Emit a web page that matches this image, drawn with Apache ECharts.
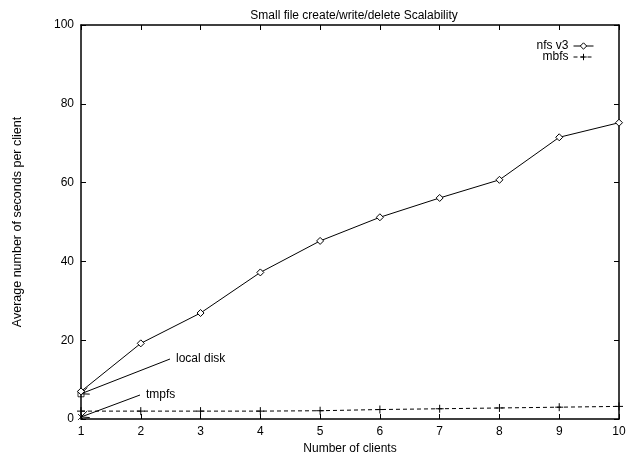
<!DOCTYPE html>
<html>
<head>
<meta charset="utf-8">
<script src="https://cdn.jsdelivr.net/npm/echarts@6/dist/echarts.min.js"></script>
<style>html,body{margin:0;padding:0;background:#fff}#c{width:629px;height:453px}</style>
</head>
<body>
<div id="c"></div>
<script>
const clients = [1, 2, 3, 4, 5, 6, 7, 8, 9, 10];
const nfsV3 = [7.0, 19.2, 26.9, 37.2, 45.2, 51.2, 56.1, 60.7, 71.5, 75.2];
const mbfs = [2.0, 2.0, 2.0, 2.0, 2.1, 2.4, 2.6, 2.8, 3.0, 3.2];
const localDisk = [1, 6.4];
const tmpfs = [1, 0.5];
const yTicks = [0, 20, 40, 60, 80, 100];
const FONT = 'Liberation Sans';

const chart = echarts.init(document.getElementById('c'), null, {renderer: 'canvas'});
const plusPath = 'path://M0,5L10,5M5,0L5,10';
const crossPath = 'path://M0,0L10,10M10,0L0,10';
const axisBase = {
  type: 'value', min: 1, max: 10, interval: 1,
  axisLine: {show: true, onZero: false, lineStyle: {color: '#000', width: 1.5}},
  axisTick: {show: true, inside: true, length: 5, lineStyle: {color: '#000', width: 1}},
  splitLine: {show: false}
};
chart.setOption({
  animation: false,
  backgroundColor: '#fff',
  textStyle: {fontFamily: FONT, color: '#000'},
  title: {
    text: 'Small file create/write/delete Scalability',
    left: 349, top: 5, textAlign: 'center',
    textStyle: {fontFamily: FONT, fontSize: 12, fontWeight: 'normal', color: '#000'}
  },
  grid: {left: 81, right: 10, top: 25, bottom: 34, containLabel: false, outerBoundsMode: 'none'},
  legend: {
    orient: 'vertical', right: 30, top: 35, align: 'right',
    itemWidth: 20, itemHeight: 8, itemGap: -1,
    data: ['nfs v3', 'mbfs'],
    lineStyle: {width: 1},
    itemStyle: {borderWidth: 1},
    textStyle: {fontFamily: FONT, fontSize: 12, lineHeight: 10, color: '#000'},
    selectedMode: false
  },
  xAxis: [
    Object.assign({}, axisBase, {
      position: 'bottom',
      name: 'Number of clients', nameLocation: 'middle', nameGap: 21,
      nameTextStyle: {fontFamily: FONT, fontSize: 12, color: '#000'},
      axisLabel: {color: '#000', fontSize: 12, fontFamily: FONT, margin: 7}
    }),
    Object.assign({}, axisBase, {position: 'top', axisLabel: {show: false}})
  ],
  yAxis: [
    {
      type: 'value', min: 0, max: 100, interval: 20, position: 'left',
      name: 'Average number of seconds per client', nameLocation: 'middle', nameGap: 57,
      nameTextStyle: {fontFamily: FONT, fontSize: 12.5, color: '#000'},
      axisLine: {show: true, lineStyle: {color: '#000', width: 1.5}},
      axisTick: {show: true, inside: true, length: 5, lineStyle: {color: '#000', width: 1}},
      axisLabel: {color: '#000', fontSize: 12, fontFamily: FONT, margin: 7,
        customValues: yTicks},
      splitLine: {show: false}
    },
    {
      type: 'value', min: 0, max: 100, interval: 20, position: 'right',
      axisLine: {show: true, lineStyle: {color: '#000', width: 1.5}},
      axisTick: {show: true, inside: true, length: 5, lineStyle: {color: '#000', width: 1}},
      axisLabel: {show: false},
      splitLine: {show: false}
    }
  ],
  series: [
    {
      name: 'nfs v3', type: 'line',
      data: clients.map((c, i) => [c, nfsV3[i]]),
      symbol: 'diamond', symbolSize: 7, showAllSymbol: true,
      lineStyle: {color: '#000', width: 1},
      itemStyle: {color: '#fff', borderColor: '#000', borderWidth: 1}
    },
    {
      name: 'mbfs', type: 'line',
      data: clients.map((c, i) => [c, mbfs[i]]),
      symbol: plusPath, symbolSize: 8, showAllSymbol: true,
      lineStyle: {color: '#000', width: 1, type: [4, 3]},
      itemStyle: {color: '#000', borderColor: '#000', borderWidth: 1}
    },
    {
      name: 'local disk', type: 'scatter', data: [localDisk],
      symbol: 'rect', symbolSize: 6,
      itemStyle: {color: 'rgba(0,0,0,0)', borderColor: '#000', borderWidth: 1}
    },
    {
      name: 'tmpfs', type: 'scatter', data: [tmpfs],
      symbol: crossPath, symbolSize: 6,
      itemStyle: {color: '#000', borderColor: '#000', borderWidth: 1}
    }
  ]
});

function arrow(fromPx, toPt, label) {
  const to = chart.convertToPixel({xAxisIndex: 0, yAxisIndex: 0}, toPt);
  const dx = to[0] - fromPx[0], dy = to[1] - fromPx[1];
  const len = Math.sqrt(dx * dx + dy * dy);
  const ux = dx / len, uy = dy / len;
  const hl = 8, hw = 3.5;
  const bx = to[0] - ux * hl, by = to[1] - uy * hl;
  const p1 = [bx - uy * hw, by + ux * hw], p2 = [bx + uy * hw, by - ux * hw];
  return [
    {type: 'line', shape: {x1: fromPx[0], y1: fromPx[1], x2: to[0], y2: to[1]},
      style: {stroke: '#000', lineWidth: 1}},
    {type: 'polyline', shape: {points: [p1, to, p2]}, style: {stroke: '#000', fill: null, lineWidth: 1}},
    {type: 'text', x: fromPx[0] + 6, y: fromPx[1],
      style: {text: label, fill: '#000', font: '12px "Liberation Sans"', textVerticalAlign: 'middle', verticalAlign: 'middle'}}
  ];
}
chart.setOption({
  graphic: [].concat(
    arrow([170, 359], localDisk, 'local disk'),
    arrow([140, 395], tmpfs, 'tmpfs')
  )
});
</script>
</body>
</html>
